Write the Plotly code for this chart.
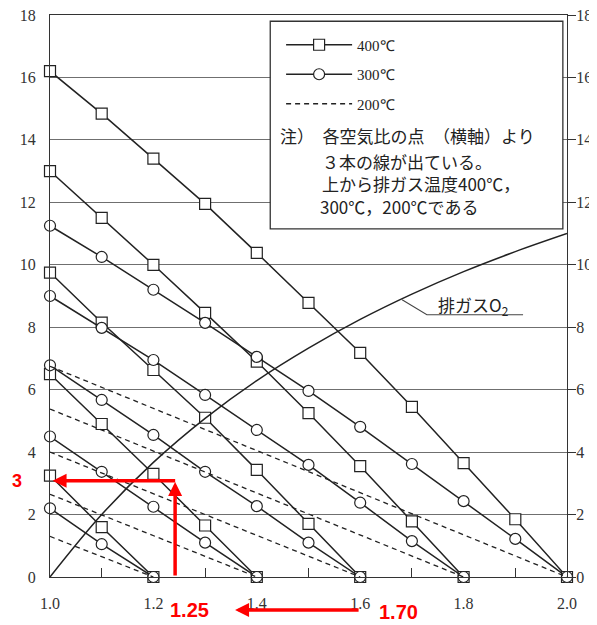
import plotly.graph_objects as go

# ---------------- data ----------------
air_ratio = [1.0, 1.1, 1.2, 1.3, 1.4, 1.5, 1.6, 1.7, 1.8, 1.9, 2.0]
end_points = [1.2, 1.4, 1.6, 1.8, 2.0]
x_ticks = [1.0, 1.2, 1.4, 1.6, 1.8, 2.0]
x_ticklabels = ["1.0", "1.2", "1.4", "1.6", "1.8", "2.0"]
y_ticks = [0, 2, 4, 6, 8, 10, 12, 14, 16, 18]

# 400 C (squares) — one line for each end air ratio
t400_12 = [3.25, 1.60, 0.0]
t400_14 = [6.50, 4.90, 3.30, 1.65, 0.0]
t400_16 = [9.75, 8.15, 6.63, 5.10, 3.43, 1.70, 0.0]
t400_18 = [13.0, 11.5, 10.0, 8.46, 6.90, 5.25, 3.55, 1.78, 0.0]
t400_20 = [16.2, 14.84, 13.4, 11.95, 10.38, 8.78, 7.18, 5.45, 3.65, 1.85, 0.0]

# 300 C (circles)
t300_12 = [2.20, 1.05, 0.0]
t300_14 = [4.50, 3.37, 2.25, 1.10, 0.0]
t300_16 = [6.78, 5.67, 4.55, 3.37, 2.27, 1.10, 0.0]
t300_18 = [9.00, 7.98, 6.95, 5.83, 4.71, 3.59, 2.38, 1.15, 0.0]
t300_20 = [11.25, 10.25, 9.20, 8.14, 7.05, 5.96, 4.81, 3.62, 2.43, 1.22, 0.0]

# 200 C (dashed, straight) — value at air ratio 1.0, zero at the end point
t200_start = [1.30, 2.65, 4.00, 5.38, 6.75]

# exhaust gas O2
o2_x = [1.0, 1.1, 1.2, 1.3, 1.4, 1.5, 1.6, 1.7, 1.8, 1.9, 2.0]
o2_y = [0.0, 2.0, 3.67, 5.08, 6.29, 7.33, 8.25, 9.06, 9.78, 10.42, 11.0]

legend_names = ["400℃", "300℃", "200℃"]
note_lines = ["注）\u2002各空気比の点\u3000（横軸）より",
              "３本の線が出ている。",
              "上から排ガス温度400℃，",
              "300℃，200℃である"]
o2_label = "排ガスO<sub>2</sub>"

# red annotations (value marks)
red_value_y = 3.08
red_value_x = 1.242
red_labels = ["3", "1.25", "1.70"]

INK = "#222222"
RED = "#ff0000"
SERIF = "Liberation Serif, Times New Roman, serif"
CJK = "Noto Sans CJK JP, Noto Sans, sans-serif"
SANS = "Liberation Sans, Arial, sans-serif"

fig = go.Figure()

series400 = [t400_12, t400_14, t400_16, t400_18, t400_20]
series300 = [t300_12, t300_14, t300_16, t300_18, t300_20]

for i, (ep, ys) in enumerate(zip(end_points, series400)):
    fig.add_trace(go.Scatter(
        x=air_ratio[:len(ys)], y=ys, mode="lines+markers",
        line=dict(color=INK, width=1.5),
        marker=dict(symbol="square", size=11, color="white",
                    line=dict(color=INK, width=1.2)),
        name=legend_names[0], legendgroup="g400", showlegend=(i == 4),
        cliponaxis=False, hoverinfo="skip"))

for i, (ep, ys) in enumerate(zip(end_points, series300)):
    fig.add_trace(go.Scatter(
        x=air_ratio[:len(ys)], y=ys, mode="lines+markers",
        line=dict(color=INK, width=1.5),
        marker=dict(symbol="circle", size=11, color="white",
                    line=dict(color=INK, width=1.2)),
        name=legend_names[1], legendgroup="g300", showlegend=(i == 4),
        cliponaxis=False, hoverinfo="skip"))

for i, (ep, v) in enumerate(zip(end_points, t200_start)):
    fig.add_trace(go.Scatter(
        x=[air_ratio[0], ep], y=[v, 0.0], mode="lines",
        line=dict(color=INK, width=1.3, dash="5px,4px"),
        name=legend_names[2], legendgroup="g200", showlegend=(i == 4),
        cliponaxis=False, hoverinfo="skip"))

fig.add_trace(go.Scatter(
    x=o2_x, y=o2_y, mode="lines", yaxis="y2",
    line=dict(color=INK, width=1.5, shape="spline"),
    showlegend=False, hoverinfo="skip"))

# legend / note box
fig.add_shape(type="rect", xref="x", yref="y", x0=1.426, x1=1.992, y0=11.15, y1=17.8,
              line=dict(color="#333", width=1.3), fillcolor="white", layer="between")

note_y = [0.7847, 0.7400, 0.6993, 0.6584]
note_x = [0.441, 0.523, 0.523, 0.518]
for t, xx, yy in zip(note_lines, note_x, note_y):
    fig.add_annotation(text=t, xref="paper", yref="paper", x=xx, y=yy,
                       xanchor="left", yanchor="middle", showarrow=False,
                       font=dict(family=CJK, size=17, color=INK))

# O2 label with leader line
fig.add_shape(type="path", xref="x", yref="y",
              path="M1.681,8.88 L1.729,8.40 L1.915,8.40",
              line=dict(color="#444", width=1.1))
fig.add_annotation(text=o2_label, xref="x", yref="y", x=1.818, y=8.70,
                   showarrow=False, font=dict(family=CJK, size=17, color=INK))

# red arrows
fig.add_annotation(text="", xref="x", yref="y", x=red_value_x, y=red_value_y - 0.04,
                   axref="x", ayref="y", ax=red_value_x, ay=0.0,
                   showarrow=True, arrowhead=2, arrowsize=0.8, arrowwidth=3.5,
                   arrowcolor=RED, standoff=0, startstandoff=0)
fig.add_annotation(text="", xref="x", yref="y", x=1.005, y=red_value_y,
                   axref="x", ayref="y", ax=red_value_x + 0.003, ay=red_value_y,
                   showarrow=True, arrowhead=2, arrowsize=0.8, arrowwidth=3.5,
                   arrowcolor=RED, standoff=0, startstandoff=0)
fig.add_annotation(text="", xref="x", yref="paper", x=1.358, y=-0.0587,
                   axref="pixel", ayref="pixel", ax=125, ay=0,
                   showarrow=True, arrowhead=2, arrowsize=0.8, arrowwidth=3.5,
                   arrowcolor=RED, standoff=0, startstandoff=0)
fig.add_annotation(text=red_labels[0], xref="paper", yref="y", x=-0.063, y=red_value_y,
                   xanchor="center", yanchor="middle", showarrow=False,
                   font=dict(family=SANS, size=18, color=RED, weight="bold"))
fig.add_annotation(text=red_labels[1], xref="x", yref="paper", x=1.27, y=-0.0587,
                   xanchor="center", yanchor="middle", showarrow=False,
                   font=dict(family=SANS, size=20, color=RED, weight="bold"))
fig.add_annotation(text=red_labels[2], xref="x", yref="paper", x=1.675, y=-0.0623,
                   xanchor="center", yanchor="middle", showarrow=False,
                   font=dict(family=SANS, size=20, color=RED, weight="bold"))

tickfont = dict(family=SERIF, size=16, color="#333")
# the page body adds an 8 px offset, so the figure is 8 px smaller and margins shifted
fig.update_layout(
    width=589, height=617,
    margin=dict(l=42, r=30, t=7, b=48, autoexpand=False),
    paper_bgcolor="white", plot_bgcolor="white",
    showlegend=True,
    legend=dict(x=0.447, xanchor="left", y=0.976, yanchor="top",
                bgcolor="rgba(0,0,0,0)", borderwidth=0,
                font=dict(family=SERIF, size=15, color=INK),
                itemwidth=66, tracegroupgap=7, traceorder="grouped"),
    xaxis=dict(range=[1.0, 2.0], tickvals=x_ticks, ticktext=x_ticklabels, automargin=False,
               ticks="", showline=True, linecolor="#333", linewidth=1.2, mirror=True,
               showgrid=False, zeroline=False, tickfont=tickfont, ticklabelstandoff=12,
               ticklabeloverflow="allow",
               minor=dict(tickvals=[1.1, 1.3, 1.5, 1.7, 1.9], ticks="inside", ticklen=9,
                          tickcolor="#333", tickwidth=1, showgrid=False)),
    yaxis=dict(range=[0, 18], tickvals=y_ticks, ticks="", showline=True, linecolor="#333",
               linewidth=1.2, showgrid=True, gridcolor="#6f6f6f", gridwidth=1, zeroline=False,
               tickfont=tickfont, ticklabelstandoff=10, automargin=False,
               ticklabeloverflow="allow"),
    yaxis2=dict(range=[0, 18], tickvals=y_ticks, overlaying="y", side="right",
                ticks="outside", ticklen=8, tickcolor="#333", showline=True, linecolor="#333",
                linewidth=1.2, showgrid=False, zeroline=False, tickfont=tickfont,
                ticklabelstandoff=-3, automargin=False, ticklabeloverflow="allow"),
)

fig.write_html("out.html")
